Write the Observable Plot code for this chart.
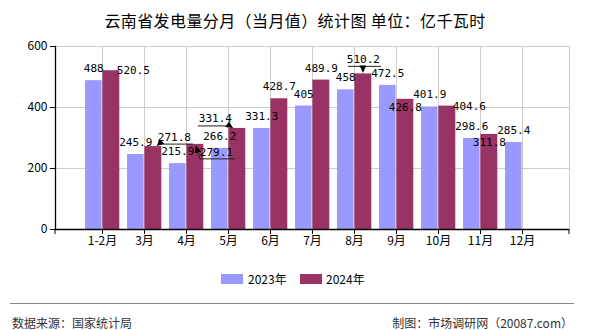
<!DOCTYPE html>
<html><head><meta charset="utf-8">
<script src="https://cdn.jsdelivr.net/npm/d3@7"></script>
<script src="https://cdn.jsdelivr.net/npm/@observablehq/plot@0.6"></script>
<style>
body{margin:0;background:#fff;}
#wrap{position:relative;width:590px;height:330px;overflow:hidden;font-family:"Noto Sans CJK SC","Noto Sans",sans-serif;background:#fff;}
#title{position:absolute;left:0;top:9px;width:590px;text-align:center;font-size:16px;line-height:22px;color:#000;letter-spacing:0.4px;}
#chart{position:absolute;left:0;top:30px;}
.sw{position:absolute;top:274px;width:22px;height:10px;}
.lt{position:absolute;top:271px;font-size:12px;line-height:16px;color:#000;}
#rule{position:absolute;left:10px;top:303px;width:564px;border-top:1px solid #888;}
.ft{position:absolute;top:315px;font-size:12px;line-height:16px;color:#333;}
</style></head>
<body><div id="wrap">
<div id="title">云南省发电量分月（当月值）统计图 单位：亿千瓦时</div>
<div id="chart"></div>
<div class="sw" id="sw0" style="left:221px"></div><div class="lt" id="lt0" style="left:248px"></div>
<div class="sw" id="sw1" style="left:300px"></div><div class="lt" id="lt1" style="left:326px"></div>
<div id="rule"></div>
<div class="ft" style="left:12px">数据来源：国家统计局</div>
<div class="ft" style="right:17px">制图：市场调研网（20087.com）</div>
</div>
<script>
const months = ["1-2月","3月","4月","5月","6月","7月","8月","9月","10月","11月","12月"];
const years = ["2023年","2024年"];
const values2023 = [488, 245.9, 215.9, 266.2, 331.3, 405, 458, 472.5, 401.9, 298.6, 285.4];
const values2024 = [520.5, 271.8, 279.1, 331.4, 428.7, 489.9, 510.2, 426.8, 404.6, 311.8, null];
const yTicks = [0, 200, 400, 600];
const colors = ["#9999FF", "#993366"];
// label placement hints (how the original chart moved overlapping labels)
const place2023 = months.map(() => "above");
const place2024 = ["right","rightUp","rightDown","leftUp","above","above","aboveLead","below","right","below","above"];
const offsets = {above:[0,-12], aboveLead:[0,-14], right:[22,0], rightUp:[21,-9], rightDown:[21,8], leftUp:[-22,-10], below:[0,8]};
const barShift = [-8.7, 8.9];

const rows = [];
months.forEach((m,i) => {
  if (values2023[i] != null) rows.push({month:m, year:years[0], yi:0, value:values2023[i], place:place2023[i]});
  if (values2024[i] != null) rows.push({month:m, year:years[1], yi:1, value:values2024[i], place:place2024[i]});
});

const labelMarks = [];
for (const yi of [0,1]) {
  for (const k of Object.keys(offsets)) {
    const sub = rows.filter(d => d.yi === yi && d.place === k);
    if (!sub.length) continue;
    labelMarks.push(Plot.text(sub, {x:"month", y:"value", text: d => String(d.value),
      dx: barShift[yi] + offsets[k][0], dy: offsets[k][1], fontFamily:"DejaVu Sans Mono, monospace", fontSize:11, fill:"#000"}));
  }
}

const chart = Plot.plot({
  width: 590, height: 230,
  marginLeft: 55, marginRight: 21, marginTop: 16, marginBottom: 31,
  style: {fontFamily: '"Noto Sans CJK SC", sans-serif', fontSize: "12px", color:"#000", background:"#fff"},
  x: {type:"band", domain: months, paddingInner: 0, paddingOuter: 0.5, label: null},
  y: {domain: [0, 600], label: null},
  marks: [
    Plot.frame({stroke:"#ccc"}),
    Plot.gridX({stroke:"#ccc", strokeOpacity:1}),
    Plot.gridY(yTicks, {stroke:"#ccc", strokeOpacity:1}),
    Plot.barY(rows.filter(d => d.yi === 0), {x:"month", y:"value", fill: colors[0], insetLeft:4, insetRight:21.4}),
    Plot.barY(rows.filter(d => d.yi === 1), {x:"month", y:"value", fill: colors[1], insetLeft:21.4, insetRight:3.7}),
    Plot.ruleY([0], {stroke:"#000", strokeWidth:1.3}),
    Plot.frame({anchor:"left", stroke:"#000", strokeWidth:1.3}),
    Plot.axisX({tickSize:5, tickPadding:2, stroke:"#000", fontSize:12, label:null}),
    Plot.axisY(yTicks, {tickSize:5, tickPadding:3, stroke:"#000", fontSize:12, label:null}),
    ...labelMarks
  ]
});
document.getElementById("chart").appendChild(chart);
years.forEach((y,i) => {
  document.getElementById("sw"+i).style.background = colors[i];
  document.getElementById("lt"+i).textContent = y;
});

// leader lines for the moved labels, positioned through Plot's own scales
const sx = chart.scale("x"), sy = chart.scale("y");
const svg = d3.select(chart);
svg.append("defs").append("marker").attr("id","ah").attr("viewBox","0 0 10 10")
  .attr("refX",10).attr("refY",5).attr("markerWidth",7).attr("markerHeight",7)
  .attr("markerUnits","userSpaceOnUse").attr("orient","auto")
  .append("path").attr("d","M0,0L10,5L0,10z").attr("fill","#000");
const g = svg.append("g").attr("stroke","#222").attr("stroke-width",1).attr("fill","none");
const leaderStyles = {
  rightUp:   {u:[-15,19,7], from:"left",  tip:[4,0]},
  rightDown: {u:[-16,19,7], from:"left",  tip:[1,2]},
  leftUp:    {u:[-17,15,8], from:"right", tip:[-4,0]},
  aboveLead: {u:[-15,18,7], from:"mid",   tip:[0,-1]}
};
rows.forEach(d => {
  const s = leaderStyles[d.place];
  if (!s) return;
  const bx = sx.apply(d.month) + sx.bandwidth / 2 + barShift[d.yi];
  const by = sy.apply(d.value);
  const tx = bx + offsets[d.place][0], ty = by + offsets[d.place][1];
  const uy = ty + s.u[2], ux1 = tx + s.u[0], ux2 = tx + s.u[1];
  g.append("line").attr("x1",ux1).attr("x2",ux2).attr("y1",uy).attr("y2",uy);
  const sxp = s.from === "left" ? ux1 : s.from === "right" ? ux2 : tx;
  g.append("line").attr("x1",sxp).attr("y1",uy).attr("x2",bx + s.tip[0]).attr("y2",by + s.tip[1])
    .attr("marker-end","url(#ah)");
});
// small end ticks of the category axis
const [r0, r1] = sx.range;
svg.append("g").attr("stroke","#000").selectAll("line").data([r0, r1]).join("line")
  .attr("x1", v => v).attr("x2", v => v).attr("y1", sy.apply(0)).attr("y2", sy.apply(0) + 5);
</script>
</body></html>
